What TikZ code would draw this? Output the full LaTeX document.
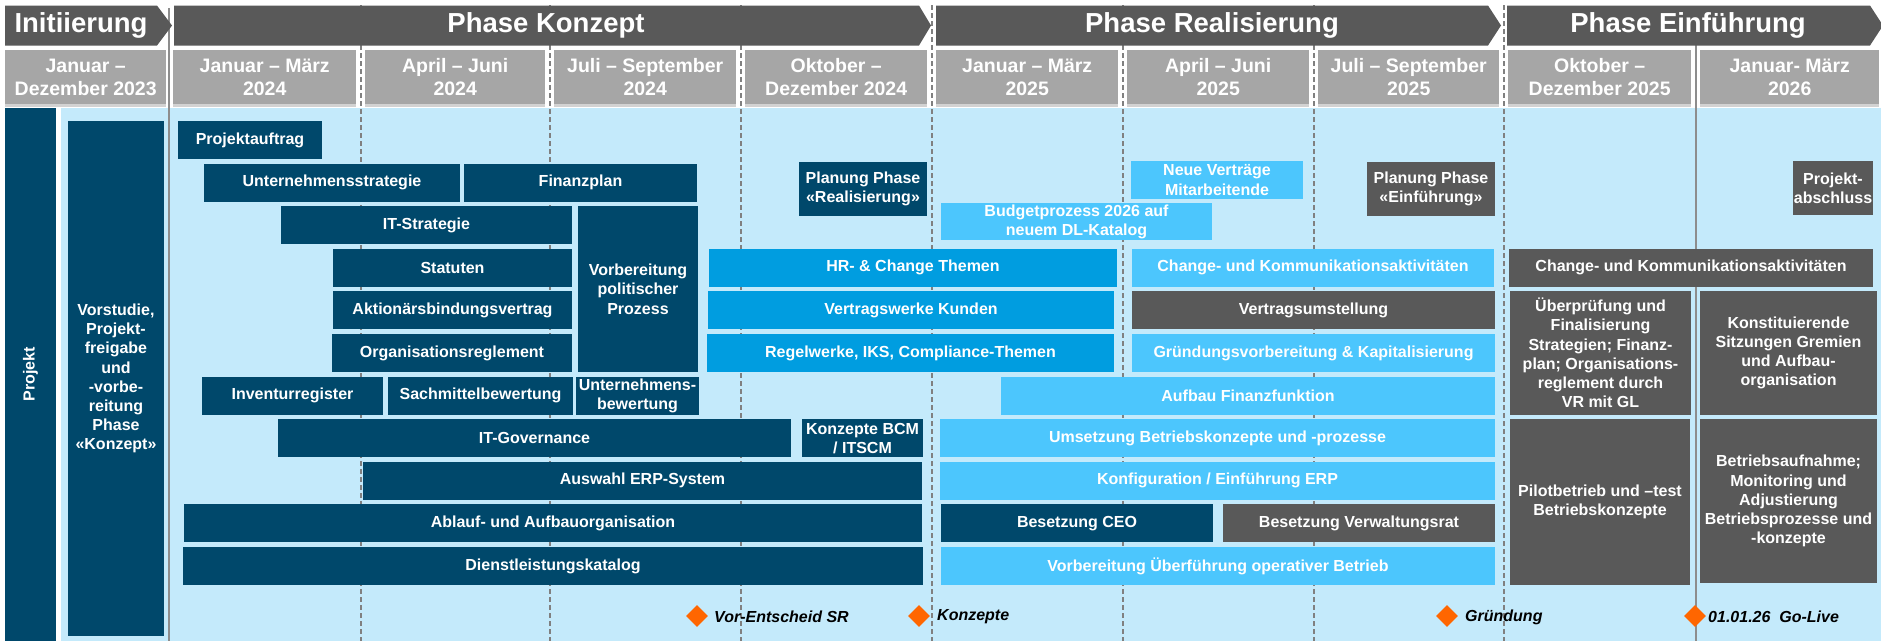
\documentclass[tikz,border=0pt]{standalone}
\usepackage{fontspec}
\setmainfont{Liberation Sans}
\usetikzlibrary{shapes.geometric,shadows}
\definecolor{cdark}{HTML}{00486B}
\definecolor{cmid}{HTML}{009DE0}
\definecolor{clight}{HTML}{4CC6FD}
\definecolor{cgray}{HTML}{595959}
\definecolor{chead}{HTML}{A6A6A6}
\definecolor{cbg}{HTML}{C4EAFB}
\definecolor{cline}{HTML}{808080}
\definecolor{cmile}{HTML}{FF6600}
\newcommand\taskbox[7]{%
  \pgfmathsetmacro\tbw{#4-#2}%
  \pgfmathsetmacro\tbh{#5-#3}%
  \node[task,#6,minimum width=\tbw pt,minimum height=\tbh pt,anchor=north west] (#1) at (#2,#3) {#7};}
\newcommand\hdrbox[4]{%
  \pgfmathsetmacro\tbw{#3-#2}%
  \node[hdr,minimum width=\tbw pt,anchor=north west] (#1) at (#2,50) {#4};}
\begin{document}
\begin{tikzpicture}[x=1pt,y=-1pt,
  task/.style={inner sep=0pt,outer sep=0pt,text=white,align=center,
    font=\bfseries\fontsize{16}{19.2}\selectfont},
  dk/.style={fill=cdark}, md/.style={fill=cmid}, lb/.style={fill=clight}, gy/.style={fill=cgray},
  hdr/.style={fill=chead,inner sep=0pt,minimum height=54pt,text=white,align=center,
    font=\bfseries\fontsize{19.5}{23}\selectfont,
    drop shadow={shadow xshift=0pt,shadow yshift=-3pt,opacity=0.35}},
  phasetxt/.style={text=white,inner sep=0pt,font=\bfseries\fontsize{27.5}{33}\selectfont},
  dline/.style={cline,line width=1.7pt,dash pattern=on 5pt off 3pt},
  sline/.style={cline!90,line width=2.2pt},
  mile/.style={diamond,fill=cmile,minimum width=22pt,minimum height=22pt,inner sep=0pt},
  miletxt/.style={anchor=west,inner sep=0pt,text=black,font=\bfseries\itshape\fontsize{16}{19.2}\selectfont}
]
\useasboundingbox (0,0) rectangle (1881,641);
\fill[white] (0,0) rectangle (1881,641);
\fill[cbg] (61,108) rectangle (1881,641);
% vertical lines
\foreach \xx in {361,550,741,932,1123,1314,1504} \draw[dline] (\xx,5) -- (\xx,641);
\draw[sline] (169,8) -- (169,641);
\draw[sline] (1696,45) -- (1696,641);
% header boxes
\hdrbox{h0}{5}{166}{Januar –\\Dezember 2023}
\hdrbox{h1}{173}{356}{Januar – März\\2024}
\hdrbox{h2}{365}{545}{April – Juni\\2024}
\hdrbox{h3}{554}{736}{Juli – September\\2024}
\hdrbox{h4}{745}{927}{Oktober –\\Dezember 2024}
\hdrbox{h5}{936}{1118}{Januar – März\\2025}
\hdrbox{h6}{1127}{1309}{April – Juni\\2025}
\hdrbox{h7}{1318}{1499}{Juli – September\\2025}
\hdrbox{h8}{1508}{1691}{Oktober –\\Dezember 2025}
\hdrbox{h9}{1700}{1879}{Januar- März\\2026}
% phase bars
\fill[cgray] (5,5.5) -- (157,5.5) -- (172,25.5) -- (157,45.5) -- (5,45.5) -- cycle;
\node[phasetxt] (p0) at (81,25.5) {Initiierung};
\fill[cgray] (174,5.5) -- (919,5.5) -- (931,25.5) -- (919,45.5) -- (174,45.5) -- cycle;
\node[phasetxt] (p1) at (546,25.5) {Phase Konzept};
\fill[cgray] (936,5.5) -- (1488,5.5) -- (1501,25.5) -- (1488,45.5) -- (936,45.5) -- cycle;
\node[phasetxt] (p2) at (1212,25.5) {Phase Realisierung};
\fill[cgray] (1507,5.5) -- (1870,5.5) -- (1883,25.5) -- (1870,45.5) -- (1507,45.5) -- cycle;
\node[phasetxt] (p3) at (1688,25.5) {Phase Einführung};
% left column
\taskbox{proj}{5}{108}{56}{641}{dk}{}
\node[task,rotate=90] (projtxt) at (proj.center) {Projekt};
\taskbox{vorst}{68}{121}{164}{636}{dk}{Vorstudie,\\Projekt-\\freigabe\\und\\-vorbe-\\reitung\\Phase\\«Konzept»}
% Phase Konzept tasks
\taskbox{pa}{178}{121}{322}{159}{dk}{Projektauftrag}
\taskbox{us}{204}{163.6}{460}{201.6}{dk}{Unternehmensstrategie}
\taskbox{fp}{464}{163.6}{697}{201.6}{dk}{Finanzplan}
\taskbox{its}{281}{206.2}{572}{244.2}{dk}{IT-Strategie}
\taskbox{stat}{333}{248.8}{572}{286.8}{dk}{Statuten}
\taskbox{abv}{333}{291.4}{572}{329.4}{dk}{Aktionärsbindungsvertrag}
\taskbox{org}{332}{334}{572}{372}{dk}{Organisationsreglement}
\taskbox{vpp}{578}{206.2}{698}{372}{dk}{Vorbereitung\\politischer\\Prozess}
\taskbox{inv}{202}{376.6}{383}{414.6}{dk}{Inventurregister}
\taskbox{sach}{388}{376.6}{573}{414.6}{dk}{Sachmittelbewertung}
\taskbox{ubw}{576}{376.6}{699}{414.6}{dk}{Unternehmens-\\bewertung}
\taskbox{itg}{278}{419.2}{791}{457.2}{dk}{IT-Governance}
\taskbox{bcm}{802}{419.2}{923}{457.2}{dk}{Konzepte BCM\\/ ITSCM}
\taskbox{erp}{363}{461.8}{922}{499.8}{dk}{Auswahl ERP-System}
\taskbox{aao}{184}{504.4}{922}{542.4}{dk}{Ablauf- und Aufbauorganisation}
\taskbox{dlk}{183}{547}{923}{585}{dk}{Dienstleistungskatalog}
\taskbox{ppr}{799}{162}{927}{216}{dk}{Planung Phase\\«Realisierung»}
% Phase Realisierung tasks
\taskbox{hr}{709}{248.8}{1117}{286.8}{md}{HR- \& Change Themen}
\taskbox{vwk}{708}{291.4}{1114}{329.4}{md}{Vertragswerke Kunden}
\taskbox{rik}{707}{334}{1114}{372}{md}{Regelwerke, IKS, Compliance-Themen}
\taskbox{nvm}{1131}{161}{1303}{199}{lb}{Neue Verträge\\Mitarbeitende}
\taskbox{bud}{941}{203}{1212}{240}{lb}{Budgetprozess 2026 auf\\neuem DL-Katalog}
\taskbox{cka}{1132}{248.8}{1494}{286.8}{lb}{Change- und Kommunikationsaktivitäten}
\taskbox{vus}{1132}{291.4}{1495}{329.4}{gy}{Vertragsumstellung}
\taskbox{gvk}{1132}{334}{1495}{372}{lb}{Gründungsvorbereitung \& Kapitalisierung}
\taskbox{aff}{1001}{376.6}{1495}{414.6}{lb}{Aufbau Finanzfunktion}
\taskbox{ubk}{940}{419.2}{1495}{457.2}{lb}{Umsetzung Betriebskonzepte und -prozesse}
\taskbox{kee}{940}{461.8}{1495}{499.8}{lb}{Konfiguration / Einführung ERP}
\taskbox{ceo}{941}{504.4}{1213}{542.4}{dk}{Besetzung CEO}
\taskbox{bvr}{1223}{504.4}{1495}{542.4}{gy}{Besetzung Verwaltungsrat}
\taskbox{vuob}{941}{547}{1495}{585}{lb}{Vorbereitung Überführung operativer Betrieb}
\taskbox{ppe}{1367}{162}{1495}{216}{gy}{Planung Phase\\«Einführung»}
% Phase Einfuehrung tasks
\taskbox{pab}{1793}{161}{1873}{215}{gy}{Projekt-\\abschluss}
\taskbox{ckb}{1509}{248.8}{1873}{286.8}{gy}{Change- und Kommunikationsaktivitäten}
\taskbox{ufs}{1510}{291.4}{1691}{414.6}{gy}{Überprüfung und\\Finalisierung\\Strategien; Finanz-\\plan; Organisations-\\reglement durch\\VR mit GL}
\taskbox{ksg}{1700}{291.4}{1877}{414.6}{gy}{Konstituierende\\Sitzungen Gremien\\und Aufbau-\\organisation}
\taskbox{pbt}{1510}{419.2}{1690}{585}{gy}{Pilotbetrieb und –test\\Betriebskonzepte}
\taskbox{bam}{1700}{419.2}{1877}{583}{gy}{Betriebsaufnahme;\\Monitoring und\\Adjustierung\\Betriebsprozesse und\\-konzepte}
% milestones
\node[mile] (m1) at (697,616) {};
\node[miletxt] (m1t) at (714,617) {Vor-Entscheid SR};
\node[mile] (m2) at (919,616) {};
\node[miletxt] (m2t) at (937,617) {Konzepte};
\node[mile] (m3) at (1447,616) {};
\node[miletxt] (m3t) at (1465,617) {Gründung};
\node[mile] (m4) at (1695,616) {};
\node[miletxt] (m4t) at (1708,617) {01.01.26\ \ Go-Live};
\end{tikzpicture}
\end{document}
